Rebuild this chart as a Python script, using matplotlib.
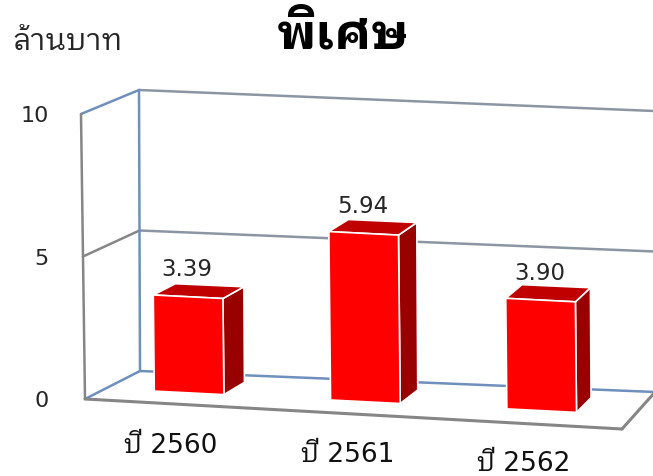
import matplotlib
matplotlib.use("Agg")
import matplotlib.pyplot as plt
from matplotlib.patches import Polygon

title = "พิเศษ"
unit_label = "ล้านบาท"
categories = ["ปี 2560", "ปี 2561", "ปี 2562"]
values = [3.39, 5.94, 3.90]
y_ticks = [0, 5, 10]

plt.rcParams["font.family"] = ["DejaVu Sans", "IBM Plex Sans Thai Looped", "Sarabun"]
THAI = ["IBM Plex Sans Thai Looped", "Sarabun", "DejaVu Sans"]

FRONT = "#ff0000"
TOP = "#c00000"
SIDE = "#990000"
GREY = "#868686"
BLUE = "#6f8fbc"
TEXT = "#262626"


# maps category position, value and depth (0 front, 1 back) to figure pixels
def project(x, v, d):
    px = 85 + 179 * x + (55 - 7.3 * x) * d - (0.4 - 0.3 * d) * v
    py = 400 + 10 * x - (28 + 3 * x) * d - (28.5 - 0.4 * d) * v
    return px, py


fig, ax = plt.subplots(figsize=(6.53, 4.77), dpi=100)
fig.subplots_adjust(0, 0, 1, 1)
ax.set_xlim(0, 653)
ax.set_ylim(477, 0)
ax.axis("off")


def line(p0, p1, color, lw=1.8):
    ax.plot([p0[0], p1[0]], [p0[1], p1[1]], color=color, lw=lw, solid_capstyle="round", zorder=1)


x_max = 3
# walls and gridlines
for t in y_ticks:
    line(project(0, t, 1), project(x_max, t, 1), BLUE if t == 0 else "#8c96a3")
    line(project(0, t, 0), project(0, t, 1), GREY if t == 5 else BLUE)
    ax.text(49, project(0, t, 0)[1] + 1.5, str(t), ha="right", va="center", fontsize=16, color=TEXT)
line(project(0, 0, 1), project(0, 10, 1), BLUE)
line(project(0, 0, 0), project(0, 10, 0), GREY)
line(project(0, 0, 0), project(x_max, 0, 0), GREY, lw=2.2)
line(project(x_max, 0, 0), project(x_max, 0, 1), GREY, lw=2.2)

# bars
bar_w = 0.395
d0, d1 = 0.37, 0.78
for i, (cat, val) in enumerate(zip(categories, values)):
    xc = i + 0.475
    x0, x1 = xc - bar_w / 2, xc + bar_w / 2
    front = [project(x0, 0, d0), project(x1, 0, d0), project(x1, val, d0), project(x0, val, d0)]
    top = [project(x0, val, d0), project(x1, val, d0), project(x1, val, d1), project(x0, val, d1)]
    side = [project(x1, 0, d0), project(x1, 0, d1), project(x1, val, d1), project(x1, val, d0)]
    for pts, col in [(side, SIDE), (top, TOP), (front, FRONT)]:
        ax.add_patch(Polygon(pts, closed=True, facecolor=col, edgecolor="white", lw=1.2, zorder=3))
    tx, ty = project(xc, val, d0)
    ax.text(tx - 1, ty - 28, f"{val:.2f}", ha="center", va="center", fontsize=16.5, color=TEXT, zorder=4)
    bx, by = project(xc, 0, d0)
    ax.text(bx - 18, by + 52, cat, ha="center", va="center", fontsize=19, color="#111111", zorder=4)

ax.text(343, 35, title, ha="center", va="center", fontsize=36, fontweight="bold", color="black", family=THAI)
ax.text(68, 42, unit_label, ha="center", va="center", fontsize=21.5, color=TEXT, family=THAI)

fig.savefig("out.png", dpi=100)
